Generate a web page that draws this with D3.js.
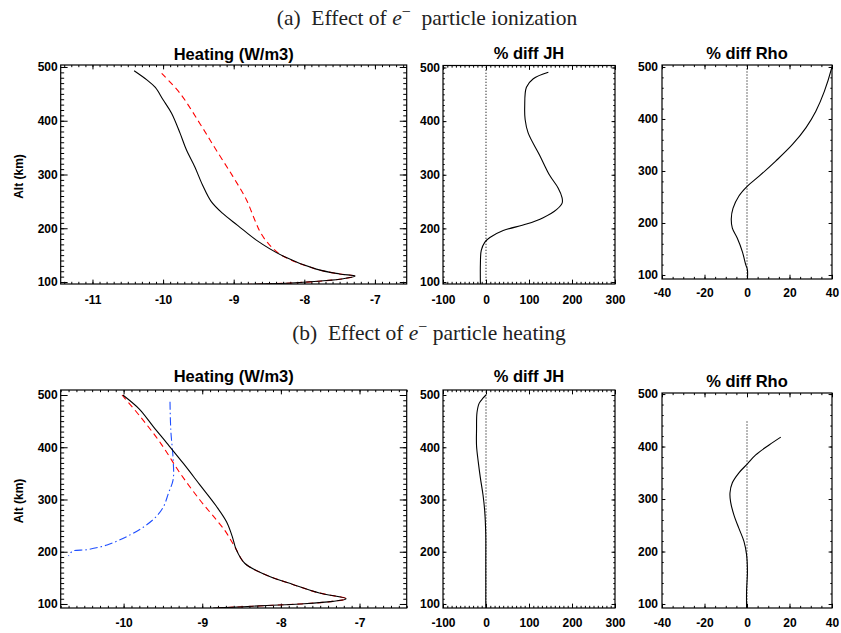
<!DOCTYPE html>
<html>
<head>
<meta charset="utf-8">
<script src="https://cdn.jsdelivr.net/npm/d3@7"></script>
<style>
  body { margin: 0; background: #fff; }
  .tick text { font: bold 12px "Liberation Sans", Arial, sans-serif; fill: #000; }
  .tick line { stroke: #000; }
  .ptitle { font: bold 16.5px "Liberation Sans", Arial, sans-serif; fill: #000; }
  .ylab { font: bold 12px "Liberation Sans", Arial, sans-serif; fill: #000; }
  .fig { font: 21.5px "Liberation Serif", "Times New Roman", serif; fill: #222; white-space: pre; }
</style>
</head>
<body>
<svg id="chart" width="841" height="633"></svg>
<script>
// tick labels
const altTicks = [100, 200, 300, 400, 500];
const heatTicksA = [-11, -10, -9, -8, -7];
const heatTicksB = [-10, -9, -8, -7];
const jhTicks = [-100, 0, 100, 200, 300];
const rhoTicks = [-40, -20, 0, 20, 40];

// (a) ionization: [value, altitude km]
const heatIonBase = [[-10.41,493],[-10.23,476],[-10.11,462],[-10.0,439],[-9.88,414],[-9.76,377],[-9.67,346],[-9.55,314],[-9.44,280],[-9.32,250],[-9.16,228],[-8.94,205],[-8.68,178],[-8.31,149],[-7.83,124],[-7.50,115],[-7.28,111],[-7.45,106],[-8.07,99],[-8.91,95]];
const heatIonNew = [[-10.02,488],[-9.76,451],[-9.48,395],[-9.25,346],[-9.01,296],[-8.82,253],[-8.70,215],[-8.62,192],[-8.50,170],[-8.31,149],[-7.83,124],[-7.50,115],[-7.28,111],[-7.45,106],[-8.07,99],[-8.91,95]];
const jhIon = [[145,491],[110,479],[94,463],[90,427],[91,403],[98,378],[125,336],[148,299],[168,275],[177,257],[177,247],[164,235],[133,220],[94,208],[40,196],[9,183],[-3,174],[-11,159],[-13,135],[-13,96]];
const rhoIon = [[0.2,93],[0.2,110],[-0.6,120],[-2.2,145],[-4.6,171],[-6.9,190],[-7.4,208],[-6.6,228],[-3.8,252],[0.2,271],[5.7,290],[13.5,319],[21.4,351],[27.7,383],[32.4,415],[36.4,453],[40,500]];

// (b) heating
const heatHeatBase = [[-10.01,500],[-9.80,473],[-9.62,439],[-9.45,408],[-9.24,369],[-9.03,328],[-8.82,287],[-8.69,257],[-8.62,230],[-8.57,205],[-8.46,178],[-8.18,155],[-7.84,137],[-7.51,121],[-7.17,110],[-7.34,105],[-7.76,100],[-8.18,97],[-8.86,92]];
const heatHeatNew = [[-10.02,500],[-9.79,459],[-9.53,408],[-9.28,350],[-9.03,299],[-8.82,261],[-8.70,238],[-8.62,218],[-8.57,205],[-8.46,178],[-8.18,155],[-7.84,137],[-7.51,121],[-7.17,110],[-7.34,105],[-7.76,100],[-8.18,97],[-8.86,92]];
const heatParticle = [[-9.41,487],[-9.40,433],[-9.37,376],[-9.37,338],[-9.43,312],[-9.49,287],[-9.58,268],[-9.74,248],[-9.96,229],[-10.21,213],[-10.46,204],[-10.65,201],[-10.70,192]];
const jhHeat = [[0,500],[-7,494],[-16,484],[-21,466],[-22,434],[-22,403],[-18,372],[-13,341],[-7,309],[-3,278],[-0.6,234],[-0.5,184],[-0.5,92]];
const rhoHeat = [[15.9,418],[10.4,403],[4.1,384],[0.2,367],[-3.8,350],[-6.9,331],[-8.0,312],[-7.7,294],[-6.1,269],[-3.8,244],[-1.4,219],[-0.2,194],[0.2,162],[-0.2,125],[-0.2,92]];

// zero reference lines
const zeroFull = [[0, 80],[0, 510]];
const zeroRhoHeat = [[0, 80],[0, 450]];

const solid = {stroke: "#000", dash: null};
const redDash = {stroke: "#ff0000", dash: "6,4"};
const blueDashDot = {stroke: "#1f4fff", dash: "8,3,1.5,3"};
const dotted = {stroke: "#000", dash: "1,2"};

const panels = [
  {x0: 60.7, x1: 406.7, y0: 65, y1: 284, xDom: [-11.45, -6.55], yDom: [96.3, 503.7], xTicks: heatTicksA, xMinor: 0.1, yMinor: 10,
   title: "Heating (W/m3)", titleY: 60, pad: 11, ylab: true,
   series: [[heatIonNew, redDash], [heatIonBase, solid]]},
  {x0: 443, x1: 615, y0: 65.5, y1: 284, xDom: [-100, 300], yDom: [96.3, 503.7], xTicks: jhTicks, xMinor: 10, yMinor: 10,
   title: "% diff JH", titleY: 59, pad: 11,
   series: [[zeroFull, dotted], [jhIon, solid]]},
  {x0: 662, x1: 832, y0: 65, y1: 279, xDom: [-40, 40], yDom: [92.3, 503.8], xTicks: rhoTicks, xMinor: 5, yMinor: 20,
   title: "% diff Rho", titleY: 59, pad: 9.5, ypad: 4,
   series: [[zeroFull, dotted], [rhoIon, solid]]},
  {x0: 60.7, x1: 406.7, y0: 390, y1: 608, xDom: [-10.8, -6.4], yDom: [92.3, 509.6], xTicks: heatTicksB, xMinor: 0.1, yMinor: 10,
   title: "Heating (W/m3)", titleY: 381.5, pad: 10, ylab: true,
   series: [[heatParticle, blueDashDot], [heatHeatNew, redDash], [heatHeatBase, solid]]},
  {x0: 443, x1: 615, y0: 390, y1: 608, xDom: [-100, 300], yDom: [92.3, 509.6], xTicks: jhTicks, xMinor: 10, yMinor: 10,
   title: "% diff JH", titleY: 381.5, pad: 10,
   series: [[zeroFull, dotted], [jhHeat, solid]]},
  {x0: 662, x1: 832, y0: 393, y1: 608, xDom: [-40, 40], yDom: [92.4, 502], xTicks: rhoTicks, xMinor: 5, yMinor: 20,
   title: "% diff Rho", titleY: 387, pad: 10, ypad: 4,
   series: [[zeroRhoHeat, dotted], [rhoHeat, solid]]}
];

const svg = d3.select("#chart");

function minorTicks(dom, step) {
  const lo = Math.ceil(dom[0] / step - 1e-9), hi = Math.floor(dom[1] / step + 1e-9);
  return d3.range(lo, hi + 1).map(i => +(i * step).toFixed(6));
}

function drawPanel(p, i) {
  const g = svg.append("g");
  const x = d3.scaleLinear().domain(p.xDom).range([p.x0, p.x1]);
  const y = d3.scaleLinear().domain(p.yDom).range([p.y1, p.y0]);
  const xLen = 0.02 * (p.y1 - p.y0);
  const yLen = 0.02 * (p.x1 - p.x0);
  const xm = minorTicks(p.xDom, p.xMinor);
  const ym = minorTicks(p.yDom, p.yMinor);
  const noLab = () => "";
  const clean = s => s.call(a => a.select(".domain").remove());

  // minor ticks, all four sides
  g.append("g").attr("transform", `translate(0,${p.y1})`)
    .call(d3.axisBottom(x).tickValues(xm).tickSize(-xLen / 2).tickFormat(noLab)).call(clean);
  g.append("g").attr("transform", `translate(0,${p.y0})`)
    .call(d3.axisTop(x).tickValues(xm).tickSize(-xLen / 2).tickFormat(noLab)).call(clean);
  g.append("g").attr("transform", `translate(${p.x0},0)`)
    .call(d3.axisLeft(y).tickValues(ym).tickSize(-yLen / 2).tickFormat(noLab)).call(clean);
  g.append("g").attr("transform", `translate(${p.x1},0)`)
    .call(d3.axisRight(y).tickValues(ym).tickSize(-yLen / 2).tickFormat(noLab)).call(clean);

  // major ticks
  g.append("g").attr("transform", `translate(0,${p.y1})`)
    .call(d3.axisBottom(x).tickValues(p.xTicks).tickSize(-xLen).tickPadding(p.pad).tickFormat(d => String(d))).call(clean);
  g.append("g").attr("transform", `translate(0,${p.y0})`)
    .call(d3.axisTop(x).tickValues(p.xTicks).tickSize(-xLen).tickFormat(noLab)).call(clean);
  g.append("g").attr("transform", `translate(${p.x0},0)`)
    .call(d3.axisLeft(y).tickValues(altTicks).tickSize(-yLen).tickPadding(p.ypad || 3).tickFormat(d => String(d))).call(clean);
  g.append("g").attr("transform", `translate(${p.x1},0)`)
    .call(d3.axisRight(y).tickValues(altTicks).tickSize(-yLen).tickFormat(noLab)).call(clean);

  g.selectAll(".tick text").attr("font-size", null).attr("font-family", null);

  const clipId = "clip" + i;
  svg.append("clipPath").attr("id", clipId).append("rect")
    .attr("x", p.x0).attr("y", p.y0).attr("width", p.x1 - p.x0).attr("height", p.y1 - p.y0);

  const line = d3.line().x(d => x(d[0])).y(d => y(d[1])).curve(d3.curveCatmullRom.alpha(0.5));
  const lines = g.append("g").attr("clip-path", `url(#${clipId})`);
  p.series.forEach(([data, st]) => {
    lines.append("path")
      .datum(data)
      .attr("d", line(data))
      .attr("fill", "none")
      .attr("stroke", st.stroke)
      .attr("stroke-width", 1.1)
      .attr("stroke-dasharray", st.dash);
  });

  g.append("rect")
    .attr("x", p.x0).attr("y", p.y0)
    .attr("width", p.x1 - p.x0).attr("height", p.y1 - p.y0)
    .attr("fill", "none").attr("stroke", "#000").attr("stroke-width", 1.2);

  g.append("text").attr("class", "ptitle")
    .attr("x", (p.x0 + p.x1) / 2).attr("y", p.titleY)
    .attr("text-anchor", "middle").text(p.title);

  if (p.ylab) {
    g.append("text").attr("class", "ylab")
      .attr("transform", `translate(23,${(p.y0 + p.y1) / 2 + 2}) rotate(-90)`)
      .attr("text-anchor", "middle").text("Alt (km)");
  }
}

panels.forEach(drawPanel);

function figTitle(label, rest, cx, yb) {
  const t = svg.append("text").attr("class", "fig")
    .attr("x", cx).attr("y", yb).attr("text-anchor", "middle");
  t.append("tspan").text(label + "  Effect of ");
  t.append("tspan").attr("font-style", "italic").text("e");
  t.append("tspan").attr("dy", -8).attr("font-size", "16px").text("\u2212");
  t.append("tspan").attr("dy", 8).text(rest);
}

figTitle("(a)", "  particle ionization", 427, 25);
figTitle("(b)", " particle heating", 429, 340);
</script>
</body>
</html>
